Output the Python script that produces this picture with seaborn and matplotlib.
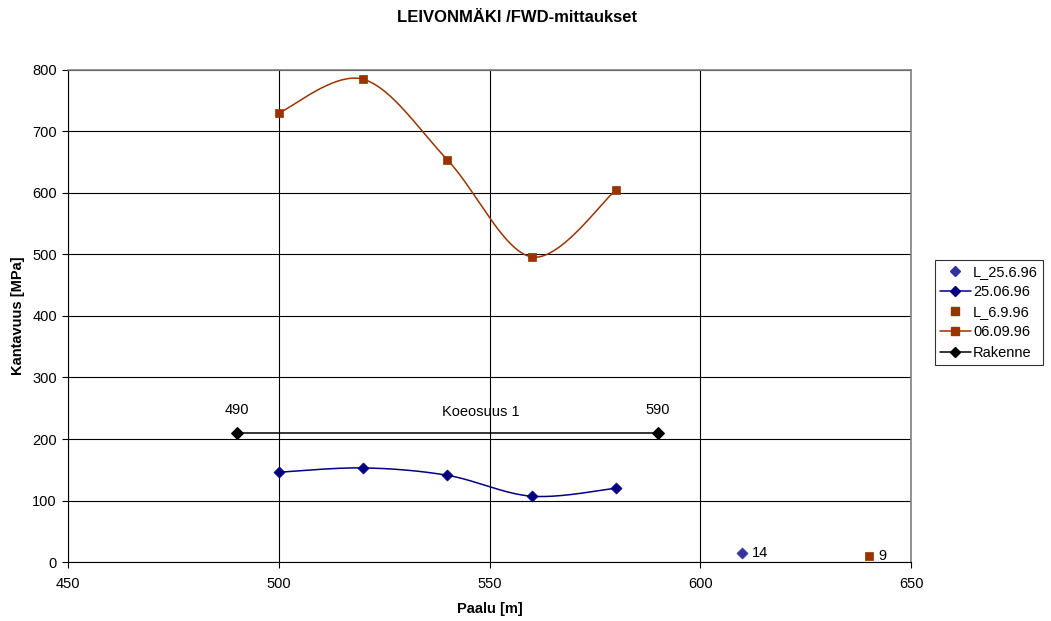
import numpy as np
import pandas as pd
import matplotlib
matplotlib.use("Agg")
import matplotlib.pyplot as plt
from matplotlib.lines import Line2D
import seaborn as sns

# Measurement data
paalu = [500, 520, 540, 560, 580]
kantavuus_250696 = [146, 153, 141, 107, 120]
kantavuus_060996 = [730, 785, 654, 496, 605]
l_250696_x, l_250696_y, l_250696_label = [610], [14], "14"
l_060996_x, l_060996_y, l_060996_label = [640], [9], "9"
rakenne_x = [490, 590]
rakenne_y = [210, 210]
rakenne_name = "Koeosuus 1"
rakenne_name_x = 548

title = "LEIVONMÄKI /FWD-mittaukset"
xlabel = "Paalu [m]"
ylabel = "Kantavuus [MPa]"
legend_labels = ["L_25.6.96", "25.06.96", "L_6.9.96", "06.09.96", "Rakenne"]

BLUE = "#000080"
BLUE_L = "#3333A0"
BROWN = "#993300"


def smooth(x, y, n=40):
    """Catmull-Rom style smoothed curve through the given points."""
    x = np.asarray(x, float)
    y = np.asarray(y, float)
    px = np.concatenate([[x[0]], x, [x[-1]]])
    py = np.concatenate([[y[0]], y, [y[-1]]])
    xs, ys = [], []
    for i in range(1, len(px) - 2):
        p0, p1, p2, p3 = (np.array([px[j], py[j]]) for j in (i - 1, i, i + 1, i + 2))
        c1 = p1 + (p2 - p0) / 6
        c2 = p2 - (p3 - p1) / 6
        t = np.linspace(0, 1, n)[:, None]
        pts = ((1 - t) ** 3) * p1 + 3 * ((1 - t) ** 2) * t * c1 + 3 * (1 - t) * t ** 2 * c2 + t ** 3 * p2
        xs.append(pts[:, 0])
        ys.append(pts[:, 1])
    return np.concatenate(xs), np.concatenate(ys)


sns.set_theme(style="white")
plt.rcParams["font.family"] = ["Liberation Sans", "DejaVu Sans"]
plt.rcParams.update({"text.color": "black", "axes.labelcolor": "black",
                     "xtick.color": "black", "ytick.color": "black"})

fig = plt.figure(figsize=(10.51, 6.21), dpi=100)
ax = fig.add_axes([0.0647, 0.095, 0.8021, 0.7923])

# Smoothed lines
for xs, ys, col in [(paalu, kantavuus_250696, BLUE), (paalu, kantavuus_060996, BROWN)]:
    sx, sy = smooth(xs, ys)
    curve = pd.DataFrame({"x": sx, "y": sy})
    sns.lineplot(data=curve, x="x", y="y", color=col, lw=1.1, ax=ax, sort=False, estimator=None)

# Markers
pts = pd.DataFrame({"x": paalu, "a": kantavuus_250696, "b": kantavuus_060996})
sns.scatterplot(data=pts, x="x", y="a", marker="D", s=32, color=BLUE, edgecolor=BLUE, ax=ax, zorder=5)
sns.scatterplot(data=pts, x="x", y="b", marker="s", s=40, color=BROWN, edgecolor=BROWN, ax=ax, zorder=5)
sns.scatterplot(x=l_250696_x, y=l_250696_y, marker="D", s=32, color=BLUE_L, edgecolor=BLUE_L, ax=ax, zorder=5)
sns.scatterplot(x=l_060996_x, y=l_060996_y, marker="s", s=40, color=BROWN, edgecolor=BROWN, ax=ax, zorder=5)

# Structure section
sns.lineplot(x=rakenne_x, y=rakenne_y, color="black", lw=1.1, marker="D", markersize=6,
             markeredgecolor="black", ax=ax)

fs = 10.5
ax.text(l_250696_x[0] + 2.3, l_250696_y[0], l_250696_label, fontsize=fs, va="center", ha="left")
ax.text(l_060996_x[0] + 2.3, l_060996_y[0], l_060996_label, fontsize=fs, va="center", ha="left")
for xv, yv in zip(rakenne_x, rakenne_y):
    ax.text(xv, yv + 25, f"{xv}", fontsize=fs, ha="center", va="bottom")
ax.text(rakenne_name_x, rakenne_y[0] + 22, rakenne_name, fontsize=fs, ha="center", va="bottom")

ax.set_xlim(450, 650)
ax.set_ylim(0, 800)
ax.set_xticks(np.arange(450, 651, 50))
ax.set_yticks(np.arange(0, 801, 100))
ax.grid(True, color="black", lw=0.8)
ax.set_axisbelow(True)
for side in ["top", "right"]:
    ax.spines[side].set_color("#808080")
    ax.spines[side].set_linewidth(1.2)
for side in ["left", "bottom"]:
    ax.spines[side].set_color("black")
    ax.spines[side].set_linewidth(0.8)
ax.tick_params(axis="x", which="major", direction="out", length=4, width=0.8,
               color="black", labelsize=fs, bottom=True, pad=7)
ax.tick_params(axis="y", which="major", direction="out", length=4, width=0.8,
               color="black", labelsize=fs, left=True, pad=4)
ax.set_xlabel(xlabel, fontsize=fs, fontweight="bold", labelpad=8)
ax.set_ylabel(ylabel, fontsize=fs, fontweight="bold", labelpad=5)
fig.text(517 / 1051, 1 - 17 / 621, title, fontsize=12, fontweight="bold", ha="center", va="center")

handles = [
    Line2D([], [], ls="none", marker="D", color=BLUE_L, markersize=5),
    Line2D([], [], color=BLUE, marker="D", markersize=5, lw=1.1),
    Line2D([], [], ls="none", marker="s", color=BROWN, markersize=6),
    Line2D([], [], color=BROWN, marker="s", markersize=6, lw=1.1),
    Line2D([], [], color="black", marker="D", markersize=5, lw=1.1),
]
leg = fig.legend(handles, legend_labels, loc="upper left", bbox_to_anchor=(935 / 1051, 1 - 260 / 621),
                 frameon=True, fancybox=False, fontsize=fs, handlelength=2.1, handletextpad=0.15,
                 borderpad=0.35, labelspacing=0.42, borderaxespad=0)
leg.get_frame().set_edgecolor("black")
leg.get_frame().set_linewidth(0.8)

fig.savefig("out.png", dpi=100, facecolor="white")
